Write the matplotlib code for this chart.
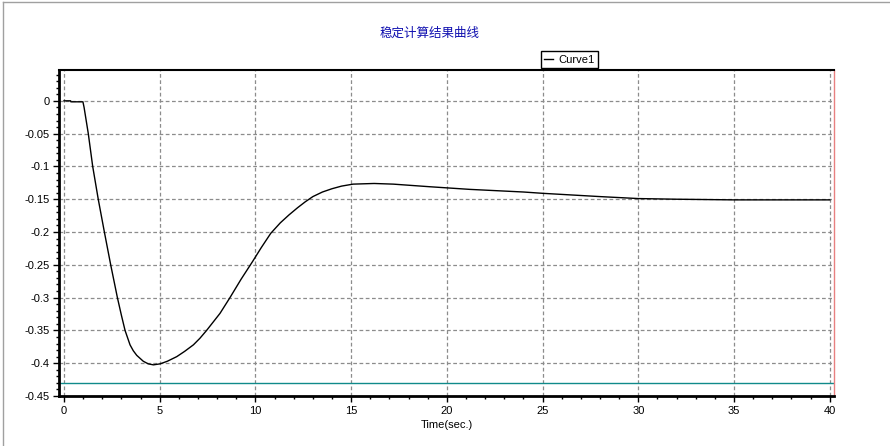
import matplotlib
matplotlib.use("Agg")
import matplotlib.pyplot as plt
from matplotlib.lines import Line2D
from matplotlib.ticker import MultipleLocator, FuncFormatter

plt.rcParams['font.family'] = ['Liberation Sans', 'Noto Sans CJK SC', 'DejaVu Sans']
plt.rcParams['axes.unicode_minus'] = False

# Data
t = [0, 0.35, 0.36, 0.99, 1.05, 1.27, 1.50, 1.79, 2.11, 2.44, 2.79, 3.0, 3.19,
     3.45, 3.62, 3.80, 4.14, 4.40, 4.67, 5.02, 5.40, 5.89, 6.30, 6.76, 7.10,
     7.45, 7.80, 8.15, 8.67, 9.25, 9.85, 10.3, 10.8, 11.3, 11.75, 12.2, 12.6,
     13.0, 13.5, 14.0, 14.5, 15.1, 16.2, 17.2, 19.12, 21.2, 24.0, 25.0, 28.0,
     30.0, 32.0, 35.0, 40.0]
curve1 = [0, 0, -0.0015, -0.0015, -0.01, -0.05, -0.10, -0.15, -0.20, -0.25, -0.30,
          -0.327, -0.35, -0.372, -0.381, -0.388, -0.397, -0.401, -0.4025, -0.401,
          -0.397, -0.390, -0.382, -0.372, -0.362, -0.350, -0.337, -0.324, -0.300,
          -0.272, -0.245, -0.224, -0.202, -0.186, -0.174, -0.163, -0.154, -0.146,
          -0.139, -0.134, -0.130, -0.127, -0.126, -0.127, -0.131, -0.135, -0.139,
          -0.141, -0.146, -0.149, -0.150, -0.151, -0.151]
limit_level = -0.43
title = "稳定计算结果曲线"
xlabel = "Time(sec.)"

fig = plt.figure(figsize=(8.9, 4.46), dpi=100)
ax = fig.add_axes([59/890, 1-396/446, 775/890, 326/446])

ax.plot(t, curve1, color='black', lw=1, label='Curve1', zorder=3)
ax.axhline(limit_level, color='#108a8a', lw=1, zorder=2)

ax.set_xlim(-0.26, 40.22)
ax.set_ylim(-0.45, 0.047)

ax.xaxis.set_major_locator(MultipleLocator(5))
ax.xaxis.set_minor_locator(MultipleLocator(1))
ax.yaxis.set_major_locator(MultipleLocator(0.05))
ax.yaxis.set_minor_locator(MultipleLocator(0.01))
ax.yaxis.set_major_formatter(FuncFormatter(lambda v, p: '%g' % round(v, 3)))

ax.grid(True, which='major', color='#8c8c8c', ls=(0, (3, 2)), lw=0.9, zorder=1)
ax.tick_params(which='major', direction='out', length=4, width=1, labelsize=8, pad=3)
ax.tick_params(which='minor', direction='out', length=2, width=1)

for side in ['left', 'bottom']:
    ax.spines[side].set_linewidth(2)
    ax.spines[side].set_color('black')
ax.spines['top'].set_linewidth(1.5)
ax.spines['right'].set_color('#e88080')
ax.spines['right'].set_linewidth(1)

ax.set_xlabel(xlabel, fontsize=8, labelpad=3)

fig.text(430/890, 1-33/446, title, fontsize=9, color='#1010b0',
         ha='center', va='center', family=['Noto Sans CJK SC', 'DejaVu Sans'])

leg = ax.legend(loc='lower left', bbox_to_anchor=(541/890, 1-68/446),
                bbox_transform=fig.transFigure, borderaxespad=0, fontsize=8,
                handlelength=0.8, handletextpad=0.5, borderpad=0.3,
                fancybox=False, framealpha=1, edgecolor='black')
leg.get_frame().set_linewidth(1)

# thin gray frame on the top and left of the figure
fig.add_artist(Line2D([0.003, 0.003], [0, 0.996], transform=fig.transFigure,
                      color='#a0a0a0', lw=1))
fig.add_artist(Line2D([0.003, 1], [0.996, 0.996], transform=fig.transFigure,
                      color='#a0a0a0', lw=1))

fig.savefig('out.png', dpi=100)
